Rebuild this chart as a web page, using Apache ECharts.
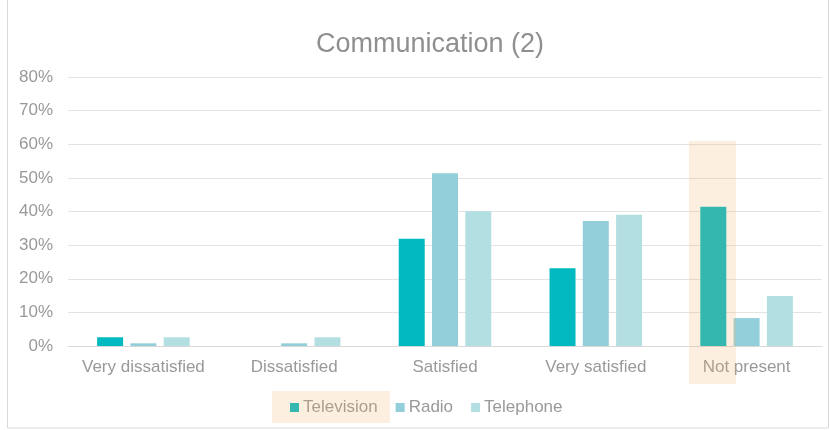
<!DOCTYPE html>
<html><head><meta charset="utf-8">
<script src="https://cdn.jsdelivr.net/npm/echarts@6/dist/echarts.min.js"></script>
<style>html,body{margin:0;padding:0;background:#fff}#c{width:830px;height:430px}</style>
</head><body><div id="c"></div>
<script>
const categories = ['Very dissatisfied', 'Dissatisfied', 'Satisfied', 'Very satisfied', 'Not present'];
const television = [2.6, 0, 31.9, 23.1, 41.4];
const radio = [0.8, 0.8, 51.4, 37.2, 8.3];
const telephone = [2.6, 2.6, 40.1, 39.0, 14.9];
const seriesNames = ['Television', 'Radio', 'Telephone'];
const yTicks = [0, 10, 20, 30, 40, 50, 60, 70, 80];

const FONT = '"Liberation Sans", Arial, sans-serif';
const colors = ['#00B9C1', '#93CFDA', '#B3DFE2'];
const chart = echarts.init(document.getElementById('c'));
const mkSeries = (name, data, color) => ({
  name, type: 'bar', data, barWidth: 26, barGap: '28%',
  itemStyle: { color }, animation: false
});
chart.setOption({
  animation: false,
  color: colors,
  title: {
    text: 'Communication (2)', left: 311, top: 26,
    textStyle: { fontFamily: FONT, fontSize: 27, fontWeight: 'normal', color: '#8f8f8f' }
  },
  legend: {
    top: 394, left: 285, itemWidth: 9, itemHeight: 9, itemGap: 18,
    icon: 'rect', data: seriesNames,
    textStyle: { fontFamily: FONT, fontSize: 17, color: '#999', padding: [0, 0, 0, -1] }
  },
  grid: { left: 68, right: 8, top: 77, bottom: 84, containLabel: false },
  xAxis: {
    type: 'category', data: categories,
    axisTick: { show: false },
    axisLine: { lineStyle: { color: '#D9D9D9' } },
    axisLabel: { interval: 0, fontFamily: FONT, fontSize: 17, color: '#999', margin: 13 }
  },
  yAxis: {
    type: 'value', min: yTicks[0], max: yTicks[yTicks.length - 1], interval: 10,
    axisLine: { show: false }, axisTick: { show: false },
    splitLine: { lineStyle: { color: '#E3E3E3' } },
    axisLabel: { fontFamily: FONT, fontSize: 17, color: '#999', margin: 15, formatter: v => v + '%' }
  },
  series: [
    mkSeries(seriesNames[0], television, colors[0]),
    mkSeries(seriesNames[1], radio, colors[1]),
    mkSeries(seriesNames[2], telephone, colors[2])
  ],
  graphic: [
    { type: 'rect', shape: { x: 7.5, y: -2, width: 821, height: 430 }, style: { fill: 'none', stroke: '#D9D9D9', lineWidth: 1 }, z: 0, silent: true },
    { type: 'rect', shape: { x: 689, y: 141, width: 47, height: 243 }, style: { fill: 'rgba(245,178,106,0.21)' }, z: 100, silent: true },
    { type: 'rect', shape: { x: 272, y: 391, width: 118, height: 32 }, style: { fill: 'rgba(245,178,106,0.21)' }, z: 100, silent: true }
  ]
});
</script></body></html>
